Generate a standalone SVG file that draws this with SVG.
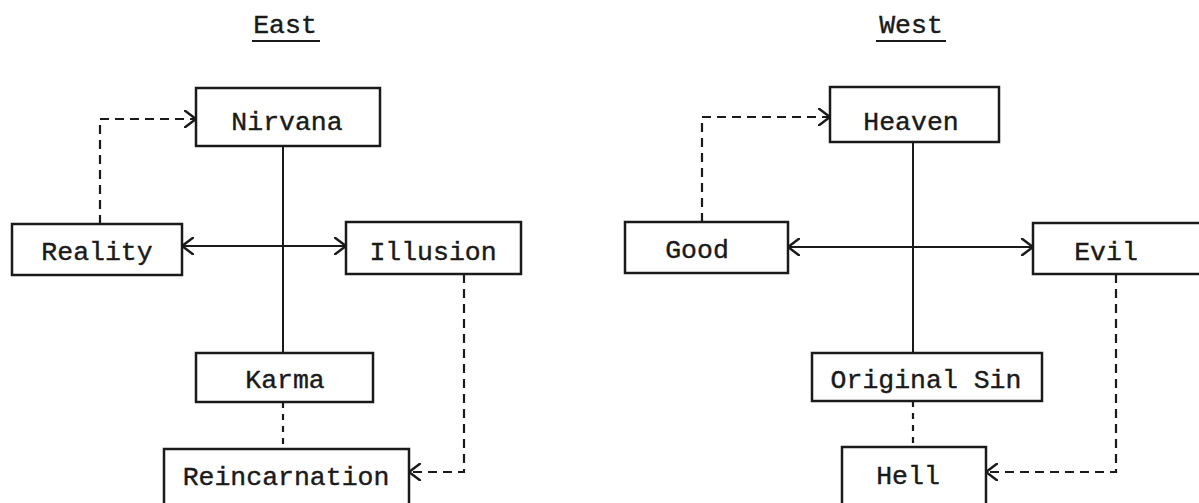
<svg xmlns="http://www.w3.org/2000/svg" width="1199" height="503" viewBox="0 0 1199 503">
<style>
  .box { fill: #ffffff; stroke: #1a1a1a; stroke-width: 2.5; }
  .lbl { font-family: "Liberation Mono", "Courier New", monospace; font-size: 26.5px; fill: #1a1a1a; text-anchor: middle; stroke: #1a1a1a; stroke-width: 0.4; }
  .head { font-family: "Liberation Mono", "Courier New", monospace; font-size: 26.5px; fill: #1a1a1a; text-anchor: middle; stroke: #1a1a1a; stroke-width: 0.4; }
  .solid { fill: none; stroke: #1a1a1a; stroke-width: 2; }
  .dash { fill: none; stroke: #1a1a1a; stroke-width: 2.2; stroke-dasharray: 9 6; }
  .dot { fill: none; stroke: #1a1a1a; stroke-width: 2.2; stroke-dasharray: 6 6; }
</style>
<defs>
  <marker id="arr" viewBox="0 0 12 18" refX="12" refY="9" markerWidth="12" markerHeight="18" markerUnits="userSpaceOnUse" orient="auto-start-reverse">
    <path d="M0,0 L12,9 L0,18" fill="none" stroke="#1a1a1a" stroke-width="2.5"/>
  </marker>
</defs>
<rect width="1199" height="503" fill="#ffffff"/>

<g id="headings">
  <text class="head" x="285" y="33">East</text>
  <line class="solid" x1="252" y1="41" x2="320" y2="41"/>
  <text class="head" x="911" y="33">West</text>
  <line class="solid" x1="876" y1="41" x2="946" y2="41"/>
</g>

<g id="connectors">
  <!-- East -->
  <line class="solid" x1="283" y1="146" x2="283" y2="353"/>
  <line class="solid" x1="182" y1="246" x2="346" y2="246" marker-start="url(#arr)" marker-end="url(#arr)"/>
  <polyline class="dash" points="100,224 100,119 196,119" marker-end="url(#arr)"/>
  <line class="dot" x1="283" y1="402" x2="283" y2="449"/>
  <polyline class="dash" points="464,274 464,472 409,472" marker-end="url(#arr)"/>
  <!-- West -->
  <line class="solid" x1="913" y1="142" x2="913" y2="353"/>
  <line class="solid" x1="788" y1="247" x2="1033" y2="247" marker-start="url(#arr)" marker-end="url(#arr)"/>
  <polyline class="dash" points="702,222 702,117 830,117" marker-end="url(#arr)"/>
  <line class="dot" x1="913" y1="401" x2="913" y2="447"/>
  <polyline class="dash" points="1116,274 1116,472 986,472" marker-end="url(#arr)"/>
</g>

<g id="nirvana">
  <rect class="box" x="196" y="88" width="184" height="58"/>
  <text class="lbl" x="287" y="130">Nirvana</text>
</g>
<g id="reality">
  <rect class="box" x="12" y="224" width="170" height="51"/>
  <text class="lbl" x="97" y="260">Reality</text>
</g>
<g id="illusion">
  <rect class="box" x="346" y="222" width="175" height="52"/>
  <text class="lbl" x="433" y="260">Illusion</text>
</g>
<g id="karma">
  <rect class="box" x="196" y="353" width="177" height="49"/>
  <text class="lbl" x="285" y="388">Karma</text>
</g>
<g id="reincarnation">
  <rect class="box" x="164" y="449" width="245" height="62"/>
  <text class="lbl" x="286" y="485">Reincarnation</text>
</g>

<g id="heaven">
  <rect class="box" x="830" y="87" width="169" height="55"/>
  <text class="lbl" x="911" y="130">Heaven</text>
</g>
<g id="good">
  <rect class="box" x="625" y="222" width="163" height="51"/>
  <text class="lbl" x="697" y="258">Good</text>
</g>
<g id="evil">
  <rect class="box" x="1033" y="223" width="180" height="51"/>
  <text class="lbl" x="1106" y="260">Evil</text>
</g>
<g id="original-sin">
  <rect class="box" x="812" y="353" width="230" height="48"/>
  <text class="lbl" x="926" y="388">Original Sin</text>
</g>
<g id="hell">
  <rect class="box" x="842" y="447" width="144" height="64"/>
  <text class="lbl" x="908" y="484">Hell</text>
</g>
</svg>
